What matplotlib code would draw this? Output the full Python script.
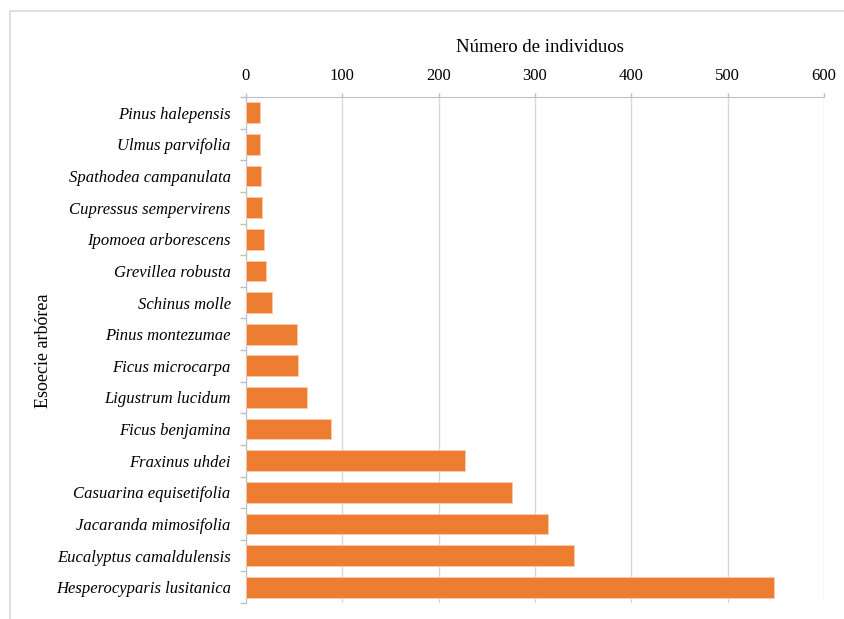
import matplotlib
matplotlib.use("Agg")
import matplotlib.pyplot as plt
from matplotlib.patches import Rectangle
import numpy as np

species = ["Pinus halepensis", "Ulmus parvifolia", "Spathodea campanulata",
           "Cupressus sempervirens", "Ipomoea arborescens", "Grevillea robusta",
           "Schinus molle", "Pinus montezumae", "Ficus microcarpa",
           "Ligustrum lucidum", "Ficus benjamina", "Fraxinus uhdei",
           "Casuarina equisetifolia", "Jacaranda mimosifolia",
           "Eucalyptus camaldulensis", "Hesperocyparis lusitanica"]
counts = [15, 15, 16, 17, 19, 21, 27, 53, 54, 63, 88, 227, 276, 314, 340, 548]
xticks = [0, 100, 200, 300, 400, 500, 600]

plt.rcParams['font.family'] = ['Liberation Serif', 'DejaVu Serif']

fig = plt.figure(figsize=(8.45, 6.19), dpi=100)
ax = fig.add_axes([246/845, 1-603/619, (824-246)/845, (603-97)/619])

y = np.arange(len(species))
ax.barh(y, counts, height=0.66, color="#ED7D31", edgecolor="#F8CBAD", linewidth=0.6, zorder=3)
ax.set_ylim(len(species)-0.5, -0.5)
ax.set_xlim(0, 600)
ax.xaxis.tick_top()
ax.set_xticks(xticks)
ax.set_xticklabels([str(t) for t in xticks], fontsize=12)
ax.set_yticks(y)
ax.set_yticklabels(species, fontsize=12, style='italic')
ax.set_yticks(np.arange(len(species)+1)-0.5, minor=True)
ax.tick_params(axis='y', which='major', length=0, pad=11)
ax.tick_params(axis='y', which='minor', length=4.5, color='#BFBFBF', width=1)
ax.tick_params(axis='x', length=3, color='#BFBFBF', width=1, pad=6)
ax.grid(axis='x', color='#D9D9D9', linewidth=1, zorder=0)
for s in ['right', 'bottom']:
    ax.spines[s].set_visible(False)
ax.spines['top'].set_color('#BFBFBF')
ax.spines['left'].set_color('#BFBFBF')
fig.text(540/845, 1-47/619, "Número de individuos", fontsize=13.5, ha='center', va='center')
fig.text(44/845, 1-351/619, "Esoecie arbórea", rotation=90, fontsize=13, ha='center', va='center')

fig.patches.append(Rectangle((10/845, 1-700/619), 900/845, (700-11)/619,
                             transform=fig.transFigure, fill=False, edgecolor='#D9D9D9', linewidth=1.2))
fig.savefig("out.png", dpi=100)
